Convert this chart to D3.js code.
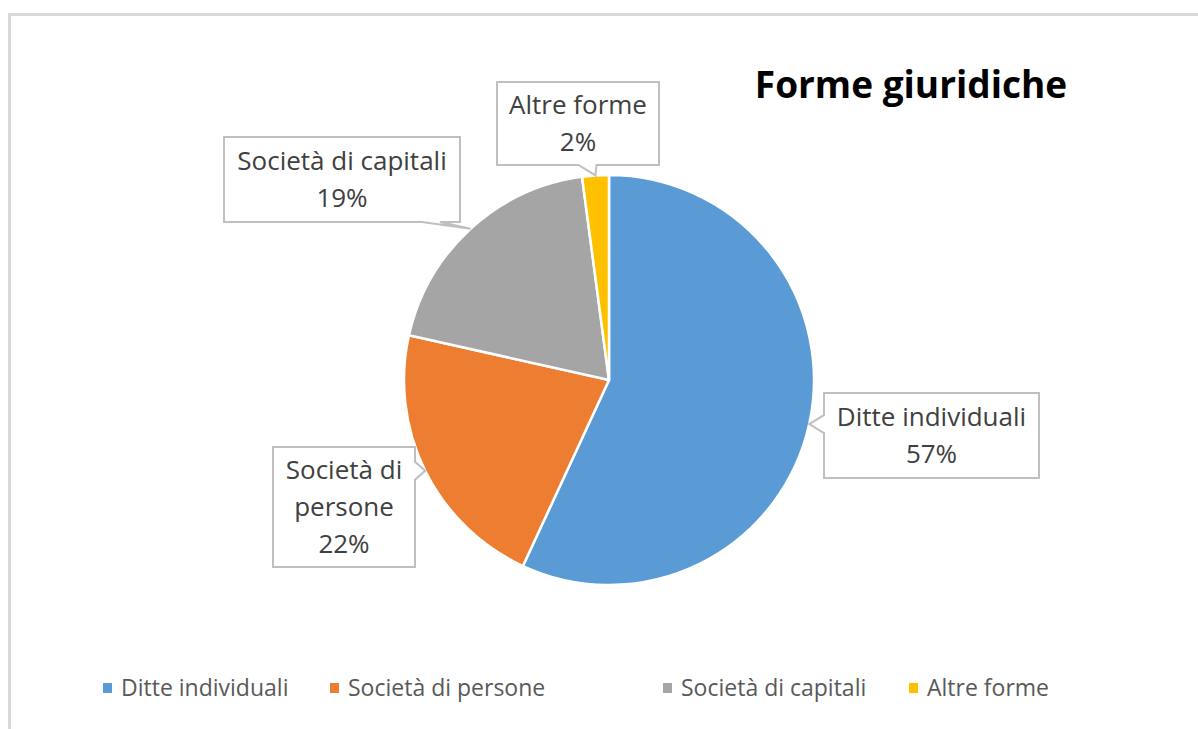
<!DOCTYPE html>
<html>
<head>
<meta charset="utf-8">
<script src="https://cdn.jsdelivr.net/npm/d3@7"></script>
<style>
  html, body { margin: 0; padding: 0; background: #fff; }
  svg { display: block; }
</style>
</head>
<body>
<div id="chart"></div>
<script>
// Dati del grafico
const categories = ["Ditte individuali", "Società di persone", "Società di capitali", "Altre forme"];
const values = [56.9, 21.6, 19.4, 2.1];
const colors = ["#5B9BD5", "#ED7D31", "#A5A5A5", "#FFC000"];
const title = "Forme giuridiche";

const W = 1198, H = 729;
const cx = 609, cy = 380, r = 205;
const font = "'Open Sans', Lato, sans-serif";

const svg = d3.select("#chart").append("svg")
  .attr("width", W).attr("height", H)
  .style("font-family", font);

// cornice grigia del grafico
svg.append("rect")
  .attr("x", 9.5).attr("y", 14.5)
  .attr("width", 1400).attr("height", 900)
  .attr("fill", "none").attr("stroke", "#d9d9d9").attr("stroke-width", 3);

// titolo
svg.append("text")
  .attr("x", 911).attr("y", 98)
  .attr("text-anchor", "middle")
  .style("font-size", "37px").style("font-weight", "bold")
  .attr("fill", "#000")
  .text(title);

const data = categories.map((c, i) => ({ name: c, value: values[i], color: colors[i] }));
const total = d3.sum(values);

const pie = d3.pie().sort(null).value(d => d.value);
const arcs = pie(data);
const arc = d3.arc().innerRadius(0).outerRadius(r);

const g = svg.append("g").attr("transform", `translate(${cx},${cy})`);
g.selectAll("path.slice")
  .data(arcs)
  .join("path")
  .attr("class", "slice")
  .attr("d", arc)
  .attr("fill", d => d.data.color)
  .attr("stroke", "#fff")
  .attr("stroke-width", 2.5)
  .attr("stroke-linejoin", "round");

// riquadri delle etichette (posizione, lato della freccia, righe)
const boxes = [
  { x: 824, y: 393, w: 215, h: 85, side: "left",   lines: ["Ditte individuali"] },
  { x: 273, y: 447, w: 142, h: 120, side: "right", lines: ["Società di", "persone"] },
  { x: 224, y: 137, w: 236, h: 85, side: "bottom", lines: ["Società di capitali"] },
  { x: 497, y: 82,  w: 162, h: 83, side: "bottom", lines: ["Altre forme"] }
];

function calloutPath(b, tip) {
  const { x, y, w, h, side } = b;
  const half = 9;
  let p;
  if (side === "left") {
    const m = Math.max(y + half + 4, Math.min(y + h - half - 4, tip[1]));
    p = [[x, y], [x + w, y], [x + w, y + h], [x, y + h], [x, m + half], tip, [x, m - half]];
  } else if (side === "right") {
    const m = Math.max(y + half + 4, Math.min(y + h - half - 4, tip[1]));
    p = [[x, y], [x + w, y], [x + w, m - half], tip, [x + w, m + half], [x + w, y + h], [x, y + h]];
  } else {
    const m = Math.max(x + half + 4, Math.min(x + w - half - 20, tip[0] - 8));
    p = [[x, y], [x + w, y], [x + w, y + h], [m + half, y + h], tip, [m - half, y + h], [x, y + h]];
  }
  return "M" + p.map(q => q.join(",")).join("L") + "Z";
}

arcs.forEach((a, i) => {
  const b = boxes[i];
  const mid = (a.startAngle + a.endAngle) / 2;
  const tip = [cx + r * Math.sin(mid), cy - r * Math.cos(mid)];
  svg.append("path")
    .attr("d", calloutPath(b, tip))
    .attr("fill", "#fff")
    .attr("stroke", "#bfbfbf")
    .attr("stroke-width", 2);
  const lines = b.lines.concat([Math.round(a.data.value / total * 100) + "%"]);
  const lh = 37;
  const y0 = b.y + b.h / 2 - (lines.length - 1) * lh / 2;
  lines.forEach((t, j) => {
    svg.append("text")
      .attr("x", b.x + b.w / 2)
      .attr("y", y0 + j * lh)
      .attr("dy", "0.35em")
      .attr("text-anchor", "middle")
      .attr("fill", "#404040")
      .style("font-size", "26px")
      .text(t);
  });
});

// legenda
const legendX = [103, 330, 663, 909];
const legend = svg.append("g");
data.forEach((d, i) => {
  legend.append("rect")
    .attr("x", legendX[i]).attr("y", 683)
    .attr("width", 9).attr("height", 10)
    .attr("fill", d.color);
  legend.append("text")
    .attr("x", legendX[i] + 18).attr("y", 688)
    .attr("dy", "0.35em")
    .attr("fill", "#595959")
    .style("font-size", "23px")
    .text(d.name);
});
</script>
</body>
</html>
